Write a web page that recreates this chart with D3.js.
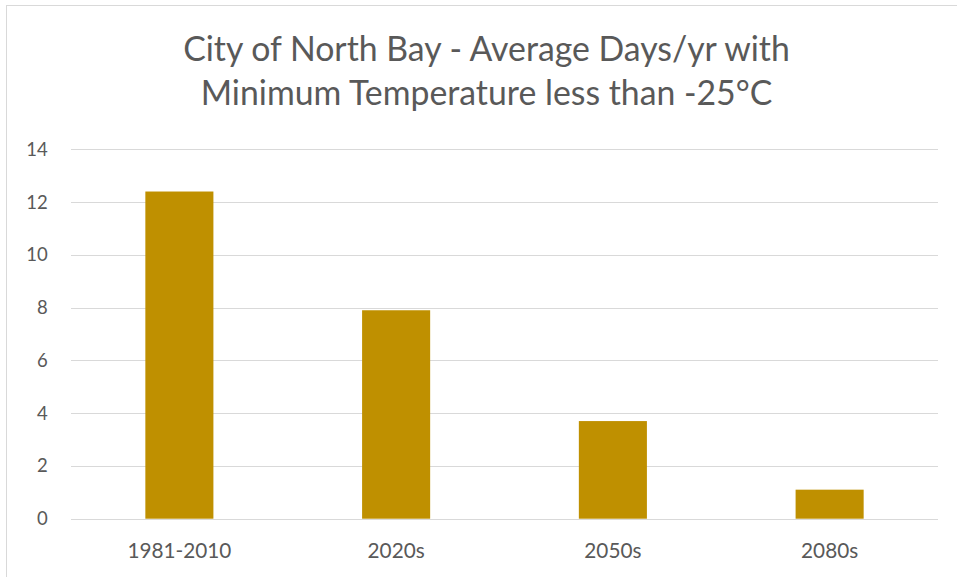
<!DOCTYPE html>
<html><head><meta charset="utf-8">
<script src="https://cdn.jsdelivr.net/npm/d3@7"></script>
<style>html,body{margin:0;padding:0;background:#fff;}svg{display:block;}</style>
</head><body>
<svg id="chart" width="957" height="577"></svg>
<script>
const categories = ["1981-2010", "2020s", "2050s", "2080s"];
const values = [12.4, 7.9, 3.7, 1.1];
const yTicks = [0, 2, 4, 6, 8, 10, 12, 14];
const titleLines = ["City of North Bay - Average Days/yr with", "Minimum Temperature less than -25°C"];

const W = 957, H = 577;
const FONT = "Lato, 'Open Sans', sans-serif";
const textColor = "#595959";
const svg = d3.select("#chart");

svg.append("rect").attr("x", 6.5).attr("y", 5.5).attr("width", W + 10).attr("height", H + 10)
  .attr("fill", "#fff").attr("stroke", "#d9d9d9").attr("stroke-width", 1);

const plot = {left: 71, right: 938, top: 149.3, bottom: 518.7};
const x = d3.scaleBand().domain(categories).range([plot.left, plot.right]).paddingInner(0.686).paddingOuter(0.343);
const y = d3.scaleLinear().domain([0, 14]).range([plot.bottom, plot.top]);

function fit(sel, target) {
  const n = sel.node();
  const w = n.getComputedTextLength();
  const fs = parseFloat(sel.attr("font-size"));
  sel.attr("font-size", fs * target / w);
}

// gridlines
svg.append("g").selectAll("line").data(yTicks).join("line")
  .attr("x1", plot.left).attr("x2", plot.right)
  .attr("y1", d => Math.round(y(d)) + 0.5).attr("y2", d => Math.round(y(d)) + 0.5)
  .attr("stroke", "#d9d9d9").attr("stroke-width", 1);

// y axis labels
const yAxis = d3.axisLeft(y).tickValues(yTicks).tickSize(0).tickPadding(0);
const ya = svg.append("g").attr("transform", `translate(${47.7},0)`).call(yAxis);
ya.select(".domain").remove();
ya.selectAll("text").attr("font-family", FONT).attr("font-size", 20).attr("fill", textColor);

// bars
svg.append("g").selectAll("rect").data(values).join("rect")
  .attr("x", (d, i) => x(categories[i]))
  .attr("width", x.bandwidth())
  .attr("y", d => y(d))
  .attr("height", d => y(0) - y(d))
  .attr("fill", "#bf9000");

// x axis labels
const xAxis = d3.axisBottom(x).tickSize(0).tickPadding(0);
const xa = svg.append("g").attr("transform", `translate(0,${plot.bottom})`).call(xAxis);
xa.select(".domain").remove();
xa.selectAll("text").attr("font-family", FONT).attr("font-size", 20).attr("fill", textColor)
  .attr("dy", null).attr("y", 39.5);

// title
const tl = svg.append("g");
titleLines.forEach((t, i) => {
  tl.append("text").attr("x", 486.5).attr("y", i === 0 ? 61 : 105)
    .attr("text-anchor", "middle").attr("font-family", FONT).attr("font-size", 32)
    .attr("fill", textColor).text(t);
});

// scale fonts to match reference text widths
const s1 = tl.select("text");
fit(s1, 607);
const tfs = parseFloat(s1.attr("font-size"));
tl.selectAll("text").attr("font-size", tfs);
const xl = xa.selectAll("text").filter(d => d === "1981-2010");
fit(xl, 104);
xa.selectAll("text").attr("font-size", xl.attr("font-size"));
const yl = ya.selectAll("text").filter(d => d === 14);
fit(yl, 21.5);
ya.selectAll("text").attr("font-size", yl.attr("font-size"));
</script>
</body></html>
